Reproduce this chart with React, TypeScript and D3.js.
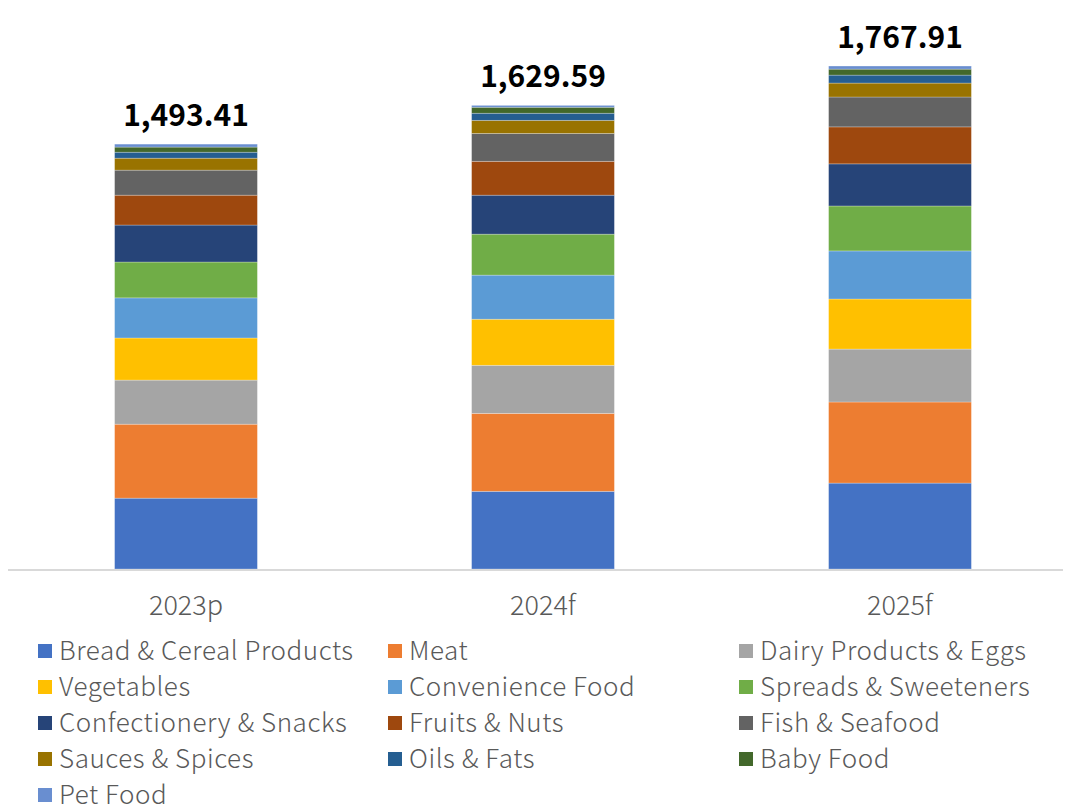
import React, { useEffect, useRef } from 'react';
import * as d3 from 'd3';

const years = ['2023p', '2024f', '2025f'];
const totals = [1493.41, 1629.59, 1767.91];

const categories = [
  'Bread & Cereal Products',
  'Meat',
  'Dairy Products & Eggs',
  'Vegetables',
  'Convenience Food',
  'Spreads & Sweeteners',
  'Confectionery & Snacks',
  'Fruits & Nuts',
  'Fish & Seafood',
  'Sauces & Spices',
  'Oils & Fats',
  'Baby Food',
  'Pet Food',
];

// values per category, one entry per year
const bread = [249, 273, 302];
const meat = [260, 274, 285];
const dairy = [155, 169, 186];
const vegetables = [148, 162, 176];
const convenience = [141, 155, 169];
const spreads = [126, 144, 158];
const confectionery = [130, 137, 148];
const fruits = [105, 119, 130];
const fish = [88, 98, 105];
const sauces = [42, 46, 49];
const oils = [21, 25, 28];
const babyFood = [18, 21, 21];
const petFood = [10.41, 6.59, 10.91];

const seriesValues = [
  bread, meat, dairy, vegetables, convenience, spreads, confectionery,
  fruits, fish, sauces, oils, babyFood, petFood,
];

const colors = [
  '#4472C4', '#ED7D31', '#A5A5A5', '#FFC000', '#5B9BD5', '#70AD47',
  '#264478', '#9E480E', '#636363', '#997300', '#255E91', '#43682B', '#698ED0',
];

const WIDTH = 1071;
const HEIGHT = 808;
const FONT = '"Noto Sans CJK KR", "Noto Sans", sans-serif';

export default function App() {
  const svgRef = useRef<SVGSVGElement>(null);

  useEffect(() => {
    if (!svgRef.current) return;
    const svg = d3.select(svgRef.current);
    svg.selectAll('*').remove();

    const baseline = 569;
    const x = d3.scaleBand().domain(years).range([7.5, 1078.5]).paddingInner(0.6).paddingOuter(0.3);
    const y = d3.scaleLinear().domain([0, 2000]).range([baseline, 0]);

    const rows = years.map((yr, i) => {
      const r: any = { year: yr };
      categories.forEach((c, j) => (r[c] = seriesValues[j][i]));
      return r;
    });
    const stacked = d3.stack<any>().keys(categories)(rows);

    const g = svg.append('g');
    stacked.forEach((layer, j) => {
      g.append('g')
        .attr('fill', colors[j])
        .selectAll('rect')
        .data(layer)
        .enter()
        .append('rect')
        .attr('x', d => x(d.data.year) || 0)
        .attr('width', x.bandwidth())
        .attr('y', d => y(d[1]))
        .attr('height', d => y(d[0]) - y(d[1]))
        .attr('stroke', '#ffffff')
        .attr('stroke-opacity', 0.35)
        .attr('stroke-width', 0.75);
    });

    // axis line
    g.append('line')
      .attr('x1', 8)
      .attr('x2', 1063)
      .attr('y1', baseline + 1)
      .attr('y2', baseline + 1)
      .attr('stroke', '#d9d9d9')
      .attr('stroke-width', 2);

    // year labels
    g.selectAll('.yr')
      .data(years)
      .enter()
      .append('text')
      .attr('x', d => (x(d) || 0) + x.bandwidth() / 2)
      .attr('y', 615)
      .attr('text-anchor', 'middle')
      .attr('font-family', FONT)
      .attr('font-weight', 300)
      .attr('font-size', 27)
      .attr('fill', '#595959')
      .text(d => d);

    // totals
    g.selectAll('.tot')
      .data(totals)
      .enter()
      .append('text')
      .attr('x', (_d, i) => (x(years[i]) || 0) + x.bandwidth() / 2)
      .attr('y', d => y(d) - 18)
      .attr('text-anchor', 'middle')
      .attr('font-family', FONT)
      .attr('font-weight', 'bold')
      .attr('font-size', 30)
      .attr('fill', '#000000')
      .text(d => d3.format(',.2f')(d));

    // legend
    const colX = [38, 388, 739];
    const legend = g.selectAll('.lg')
      .data(categories)
      .enter()
      .append('g')
      .attr('transform', (_d, i) => `translate(${colX[i % 3]},${651 + Math.floor(i / 3) * 36})`);
    legend.append('rect')
      .attr('x', 0)
      .attr('y', -7)
      .attr('width', 14)
      .attr('height', 14)
      .attr('fill', (_d, i) => colors[i]);
    legend.append('text')
      .attr('x', 21)
      .attr('y', 9)
      .attr('font-family', FONT)
      .attr('font-weight', 300)
      .attr('font-size', 26)
      .attr('letter-spacing', 0.55)
      .attr('fill', '#595959')
      .text(d => d);
  }, []);

  return (
    <svg
      ref={svgRef}
      width={WIDTH}
      height={HEIGHT}
      style={{ position: 'absolute', left: 0, top: 0, background: '#fff' }}
    />
  );
}
